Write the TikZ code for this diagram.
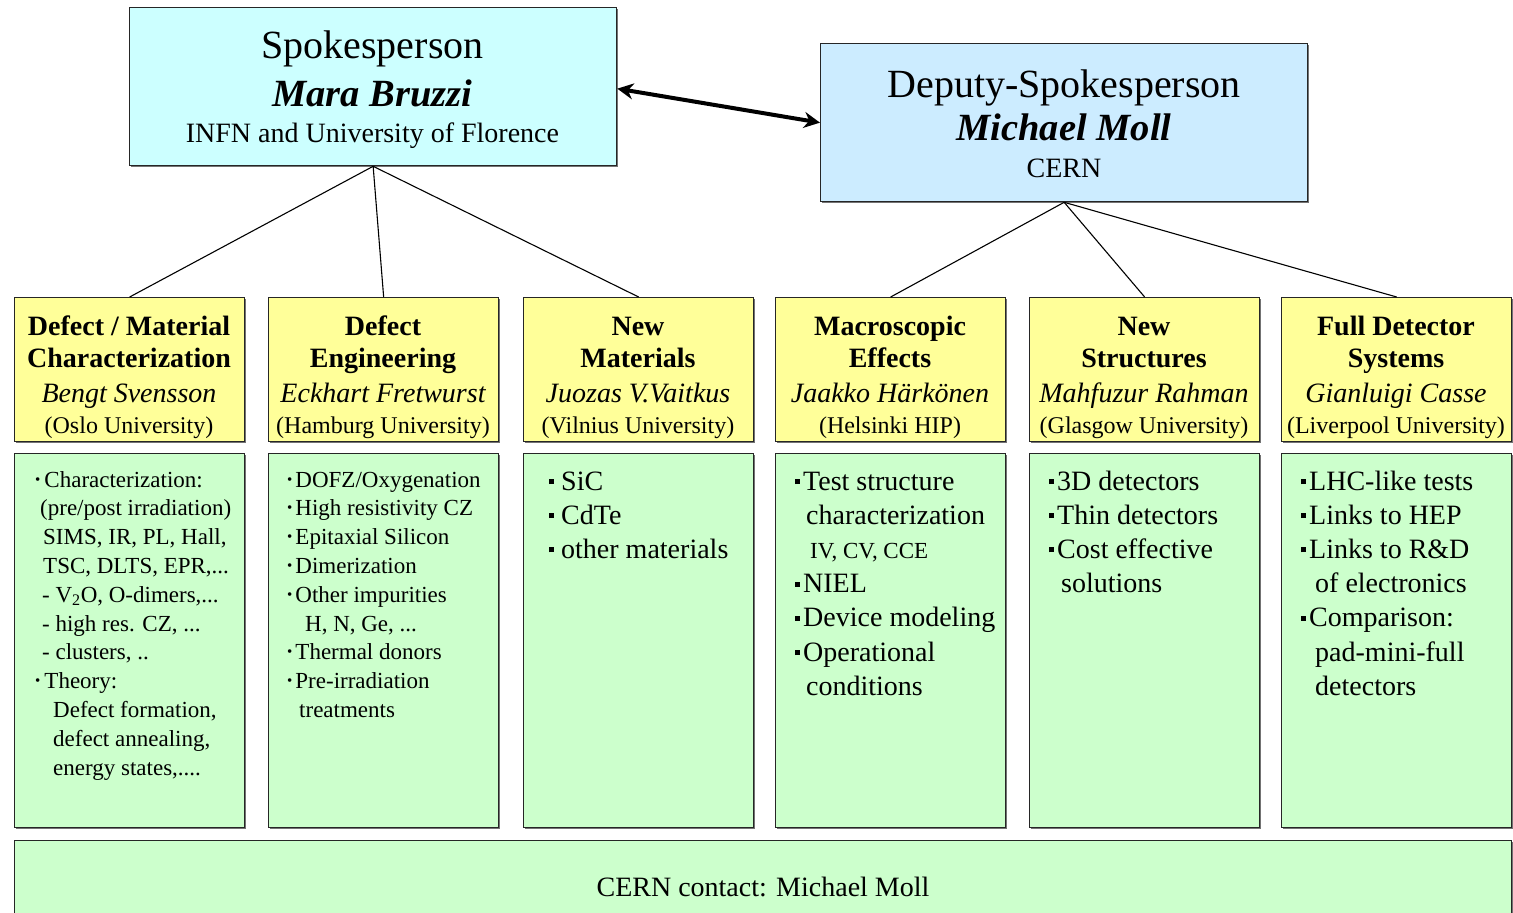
\documentclass[tikz,border=0pt]{standalone}
\usepackage{fontspec}
\setmainfont{Liberation Serif}
\usetikzlibrary{arrows.meta,shadows}
\definecolor{spfill}{HTML}{CCFFFF}
\definecolor{dpfill}{HTML}{CCECFF}
\definecolor{yfill}{HTML}{FFFF99}
\definecolor{gfill}{HTML}{CCFFCC}
\newcommand\sbul{{\fontsize{15}{15}\selectfont\raisebox{3pt}{•}}}
\newcommand\sqb{\rule[6pt]{5pt}{5pt}}
\newcommand\ylines[4]{\begin{minipage}[t]{230pt}\centering
{\fontsize{28}{32}\bfseries #1\par}
{\fontsize{28}{32}\bfseries #2\par}
{\fontsize{28}{35}\itshape #3\par}
{\fontsize{24}{31}\selectfont #4\par}
\end{minipage}}
\begin{document}
\begin{tikzpicture}[x=1pt,y=-1pt,
  box/.style={draw=black!85, line width=1.3pt, inner sep=0pt, anchor=north west,
    drop shadow={shadow xshift=1.5pt, shadow yshift=-1.5pt, fill=black!55, opacity=1}},
  topbox/.style={box, minimum width=487pt, minimum height=158pt},
  ybox/.style={box, fill=yfill, minimum width=230pt, minimum height=144pt},
  gbox/.style={box, fill=gfill, minimum width=230pt, minimum height=374pt},
  txt/.style={inner sep=0pt, anchor=base},
  gtxt/.style={inner sep=0pt, anchor=base west},
  link/.style={draw=black, line width=1.1pt}
]
\useasboundingbox (0,0) rectangle (1513,913);

% top boxes
\node[topbox, fill=spfill] (sp) at (129,7) {};
\node[topbox, fill=dpfill] (dp) at (820,43) {};
\node[txt] (spt) at (372.5,58) {\begin{minipage}[t]{480pt}\centering
{\fontsize{40}{40}\selectfont Spokesperson\par}
{\fontsize{38.5}{48}\bfseries\itshape Mara Bruzzi\par}
{\fontsize{28}{36}\selectfont INFN and University of Florence\par}
\end{minipage}};
\node[txt] (dpt) at (1064,97) {\begin{minipage}[t]{480pt}\centering
{\fontsize{40}{40}\selectfont Deputy-Spokesperson\par}
{\fontsize{38.5}{43}\bfseries\itshape Michael Moll\par}
{\fontsize{28}{37}\selectfont CERN\par}
\end{minipage}};

% yellow boxes
\node[ybox] (y1) at (14,297) {};
\node[ybox] (y2) at (268,297) {};
\node[ybox] (y3) at (523,297) {};
\node[ybox] (y4) at (775,297) {};
\node[ybox] (y5) at (1029,297) {};
\node[ybox] (y6) at (1281,297) {};
\node[txt] (y1t) at (129,335) {\ylines{Defect / Material}{Characterization}{Bengt Svensson}{(Oslo University)}};
\node[txt] (y2t) at (383,335) {\ylines{Defect}{Engineering}{Eckhart Fretwurst}{(Hamburg University)}};
\node[txt] (y3t) at (638,335) {\ylines{New}{Materials}{Juozas V.Vaitkus}{(Vilnius University)}};
\node[txt] (y4t) at (890,335) {\ylines{Macroscopic}{Effects}{Jaakko Härkönen}{(Helsinki HIP)}};
\node[txt] (y5t) at (1144,335) {\ylines{New}{Structures}{Mahfuzur Rahman}{(Glasgow University)}};
\node[txt] (y6t) at (1396,335) {\ylines{Full Detector}{Systems}{Gianluigi Casse}{(Liverpool University)}};

% green boxes
\node[gbox] (g1) at (14,453) {};
\node[gbox] (g2) at (268,453) {};
\node[gbox] (g3) at (523,453) {};
\node[gbox] (g4) at (775,453) {};
\node[gbox] (g5) at (1029,453) {};
\node[gbox] (g6) at (1281,453) {};

\node[gtxt] (g1t) at (35,487) {\begin{minipage}[t]{215pt}\raggedright\fontsize{23}{28.8}\selectfont
\sbul\hspace{4pt}Characterization:\\
\hspace*{5pt}(pre/post irradiation)\\
\hspace*{8pt}SIMS, IR, PL, Hall,\\
\hspace*{8pt}TSC, DLTS, EPR,...\\
\hspace*{7pt}- V\textsubscript{2}O, O-dimers,...\\
\hspace*{7pt}- high res. CZ, ...\\
\hspace*{7pt}- clusters, ..\\
\sbul\hspace{4pt}Theory:\\
\hspace*{18pt}Defect formation,\\
\hspace*{18pt}defect annealing,\\
\hspace*{18pt}energy states,....
\end{minipage}};
\node[gtxt] (g2t) at (287,487) {\begin{minipage}[t]{215pt}\raggedright\fontsize{23}{28.8}\selectfont
\sbul\hspace{3pt}DOFZ/Oxygenation\\
\sbul\hspace{3pt}High resistivity CZ\\
\sbul\hspace{3pt}Epitaxial Silicon\\
\sbul\hspace{3pt}Dimerization\\
\sbul\hspace{3pt}Other impurities\\
\hspace*{18pt}H, N, Ge, ...\\
\sbul\hspace{3pt}Thermal donors\\
\sbul\hspace{3pt}Pre-irradiation\\
\hspace*{12pt}treatments
\end{minipage}};
\node[gtxt] (g3t) at (549,490) {\begin{minipage}[t]{200pt}\raggedright\fontsize{28}{34.2}\selectfont
\sqb\hspace{7pt}SiC\\
\sqb\hspace{7pt}CdTe\\
\sqb\hspace{7pt}other materials
\end{minipage}};
\node[gtxt] (g4t) at (795,490) {\begin{minipage}[t]{215pt}\raggedright\fontsize{28}{34.2}\selectfont
\sqb\hspace{3pt}Test structure\\
\hspace*{11pt}characterization\\
\hspace*{15pt}{\fontsize{23}{23}\selectfont IV, CV, CCE}\\
\sqb\hspace{3pt}NIEL\\
\sqb\hspace{3pt}Device modeling\\
\sqb\hspace{3pt}Operational\\
\hspace*{11pt}conditions
\end{minipage}};
\node[gtxt] (g5t) at (1049,490) {\begin{minipage}[t]{210pt}\raggedright\fontsize{28}{34.2}\selectfont
\sqb\hspace{3pt}3D detectors\\
\sqb\hspace{3pt}Thin detectors\\
\sqb\hspace{3pt}Cost effective\\
\hspace*{12pt}solutions
\end{minipage}};
\node[gtxt] (g6t) at (1301,490) {\begin{minipage}[t]{210pt}\raggedright\fontsize{28}{34.2}\selectfont
\sqb\hspace{3pt}LHC-like tests\\
\sqb\hspace{3pt}Links to HEP\\
\sqb\hspace{3pt}Links to R\&D\\
\hspace*{14pt}of electronics\\
\sqb\hspace{3pt}Comparison:\\
\hspace*{14pt}pad-mini-full\\
\hspace*{14pt}detectors
\end{minipage}};

% bottom box
\node[box, fill=gfill, minimum width=1497pt, minimum height=85pt] (bt) at (14,840) {};
\node[txt] (btt) at (763,896) {\fontsize{28}{28}\selectfont CERN contact: Michael Moll};

% connectors
\draw[link] (sp.south) -- (y1.north);
\draw[link] (sp.south) -- (y2.north);
\draw[link] (sp.south) -- (y3.north);
\draw[link] (dp.south) -- (y4.north);
\draw[link] (dp.south) -- (y5.north);
\draw[link] (dp.south) -- (y6.north);
\draw[line width=4pt, {Stealth[length=16pt,width=16pt]}-{Stealth[length=16pt,width=16pt]}]
  ([yshift=-2pt]sp.east) -- (dp.west);
\end{tikzpicture}
\end{document}
